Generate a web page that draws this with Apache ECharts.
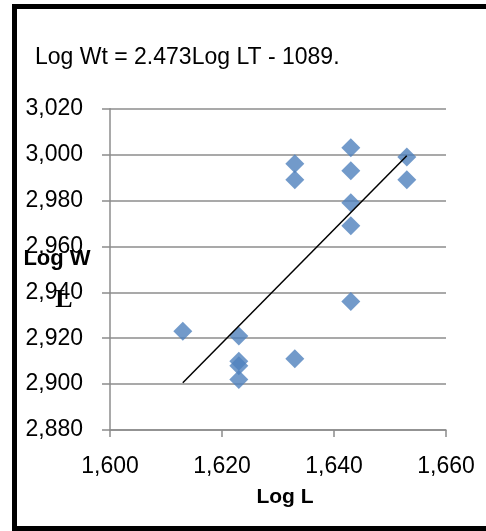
<!DOCTYPE html>
<html lang="en">
<head>
<meta charset="UTF-8">
<title>Log W vs Log L</title>
<script src="https://cdn.jsdelivr.net/npm/echarts@6/dist/echarts.min.js"></script>
<style>
    html, body {
        margin: 0;
        padding: 0;
        width: 100%;
        height: 100%;
        background: #fff;
        overflow: hidden;
    }
    #chart {
        position: absolute;
        left: 0;
        top: 0;
        width: 486px;
        height: 531px;
    }
    /* black frame, its right edge falls outside the window */
    #frame {
        position: absolute;
        left: 12px;
        top: 4px;
        width: 600px;
        height: 527px;
        border-left: 5px solid #000;
        border-top: 5px solid #000;
        border-bottom: 5px solid #000;
        box-sizing: border-box;
        pointer-events: none;
    }
</style>
</head>
<body>
<div id="chart"></div>
<div id="frame"></div>
<script>
    // data
    var logL = [1613, 1623, 1623, 1623, 1623, 1633, 1633, 1633, 1643, 1643, 1643, 1643, 1643, 1653, 1653];
    var logW = [2923, 2921, 2910, 2908, 2902, 2911, 2996, 2989, 3003, 2993, 2979, 2969, 2936, 2999, 2989];
    // trend line end points
    var lineL = [1613, 1653];
    var lineW = [2900.6, 2999.5];

    var xTicks = [1600, 1620, 1640, 1660];
    var yTicks = [2880, 2900, 2920, 2940, 2960, 2980, 3000, 3020];

    var titleText = 'Log Wt = 2.473Log LT - 1089.';
    var xName = 'Log L';
    var yName = 'Log W';
    var yNameSub = 'L';

    var font = 'Liberation Sans';
    var grey = '#8c8c8c';

    var points = logL.map(function (v, i) { return [v, logW[i]]; });
    var trend = lineL.map(function (v, i) { return [v, lineW[i]]; });

    function fmt(v) {
        return String(v).replace(/\B(?=(\d{3})+(?!\d))/g, ',');
    }

    var chart = echarts.init(document.getElementById('chart'));
    var option = {
        animation: false,
        backgroundColor: '#fff',
        grid: { left: 110, top: 108.7, right: 40, bottom: 101 },
        xAxis: {
            type: 'value',
            min: xTicks[0],
            max: xTicks[xTicks.length - 1],
            interval: 20,
            axisLine: { show: true, onZero: false, lineStyle: { color: grey, width: 1.5 } },
            axisTick: { show: true, length: 7, lineStyle: { color: grey, width: 1.5 } },
            splitLine: { show: false },
            axisLabel: { color: '#000', fontFamily: font, fontSize: 23, margin: 25, formatter: fmt }
        },
        yAxis: {
            type: 'value',
            min: yTicks[0],
            max: yTicks[yTicks.length - 1],
            interval: 20,
            axisLine: { show: true, onZero: false, lineStyle: { color: grey, width: 1.5 } },
            axisTick: { show: true, length: 8, lineStyle: { color: grey, width: 1.5 } },
            splitLine: { show: true, lineStyle: { color: grey, width: 1.5 } },
            axisLabel: { color: '#000', fontFamily: font, fontSize: 23, margin: 27, formatter: fmt }
        },
        series: [
            {
                type: 'scatter',
                data: points,
                symbol: 'diamond',
                symbolSize: 19,
                itemStyle: { color: '#4f81bd' },
                z: 3
            },
            {
                type: 'line',
                data: trend,
                symbol: 'none',
                lineStyle: { color: '#000', width: 1.5 },
                z: 4
            }
        ],
        graphic: [
            {
                type: 'text',
                left: 35, top: 46,
                style: { text: titleText, fill: '#000', font: '23px "Liberation Sans"' }
            },
            {
                type: 'text',
                x: 285, y: 497,
                style: { text: xName, fill: '#000', font: 'bold 21px "Liberation Sans"', textAlign: 'center', textVerticalAlign: 'middle' },
                z: 10
            },
            {
                type: 'text',
                x: 57, y: 259,
                style: { text: yName, fill: '#000', font: 'bold 22px "Liberation Sans"', textAlign: 'center', textVerticalAlign: 'middle' },
                z: 10
            },
            {
                type: 'text',
                x: 64, y: 300,
                style: { text: yNameSub, fill: '#000', font: 'bold 26px "Liberation Serif"', textAlign: 'center', textVerticalAlign: 'middle' },
                z: 10
            }
        ]
    };
    chart.setOption(option);
</script>
</body>
</html>
